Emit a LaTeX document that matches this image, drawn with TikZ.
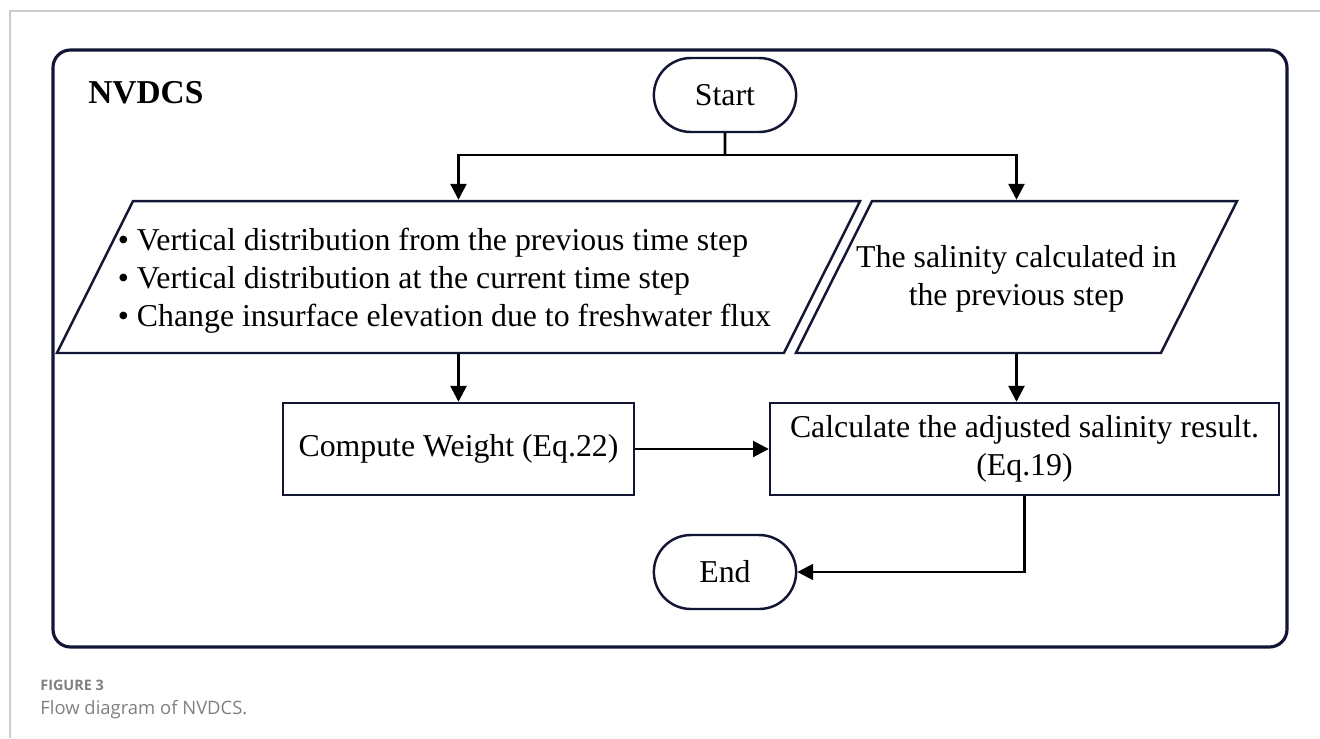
\documentclass[tikz,border=0pt]{standalone}
\usepackage{fontspec}
\setmainfont{Liberation Serif}
\newfontfamily\captionfont{Open Sans}
\usetikzlibrary{arrows.meta,shapes.geometric,shapes.misc}
\definecolor{framenavy}{RGB}{18,22,52}
\definecolor{capgrey}{RGB}{128,128,128}
\definecolor{pagegrey}{RGB}{204,204,204}
\begin{document}
\begin{tikzpicture}[>={Triangle[length=9pt,width=9pt]},font=\fontsize{18.1}{21.5}\selectfont,x=0.02cm,y=-0.02cm]
      \tikzset{term/.style={draw=framenavy, line width=1.4pt, rounded rectangle, minimum width=3.08cm, minimum height=1.48cm},
        box/.style={draw=framenavy, line width=1.4pt, align=center, minimum height=1.84cm, inner sep=2pt},
        iobox/.style={draw=framenavy, line width=1.4pt, trapezium, trapezium left angle=63.4, trapezium right angle=116.6, inner ysep=1.52cm},
        flow/.style={->, line width=1.5pt}}
      \useasboundingbox (0,0) rectangle (1320,738);
      \draw[pagegrey, line width=0.6pt] (10,738) -- (10,11) -- (1320,11);
      \draw[framenavy, line width=1.8pt, rounded corners=0.35cm] (53,50) rectangle (1287,647);
      \node[anchor=base west, inner sep=0, font=\fontsize{19}{23}\selectfont\bfseries] (title) at (88,103) {NVDCS};
      \node[term] (start) at (725,95) {Start};
      \node[iobox, inner xsep=6.51cm, label={[align=left, xshift=-8pt, yshift=-2pt]center:\textbullet\ Vertical distribution from the previous time step\\\textbullet\ Vertical distribution at the current time step\\\textbullet\ Change insurface elevation due to freshwater flux}] (lpara) at (458.5,277) {};
      \node[iobox, inner xsep=2.89cm, label={[align=center, yshift=-1pt]center:The salinity calculated in\\the previous step}] (rpara) at (1016.5,277) {};
      \node[box, minimum width=7.02cm] (comp) at (458.5,449) {Compute Weight (Eq.22)};
      \node[box, minimum width=10.18cm] (calc) at (1024.5,449) {Calculate the adjusted salinity result.\\(Eq.19)};
      \node[term] (end) at (725,572) {End};
      \coordinate (split) at (725,155);
      \draw[line width=1.5pt] (start) -- (split);
      \draw[flow] (split) -| (lpara);
      \draw[flow] (split) -| (rpara);
      \draw[flow] (lpara) -- (comp);
      \draw[flow] (rpara.south) -- (rpara.south |- calc.north);
      \draw[flow] (comp) -- (calc);
      \draw[flow] (calc.south) |- (end);
      \node[anchor=base west, inner sep=0, text=capgrey, font=\captionfont\fontsize{8.2}{10}\selectfont\bfseries] (figno) at (40,690) {FIGURE 3};
      \node[anchor=base west, inner sep=0, text=capgrey, font=\captionfont\fontsize{10.5}{13}\selectfont] (figcap) at (40,714) {Flow diagram of NVDCS.};
    \end{tikzpicture}
\end{document}
